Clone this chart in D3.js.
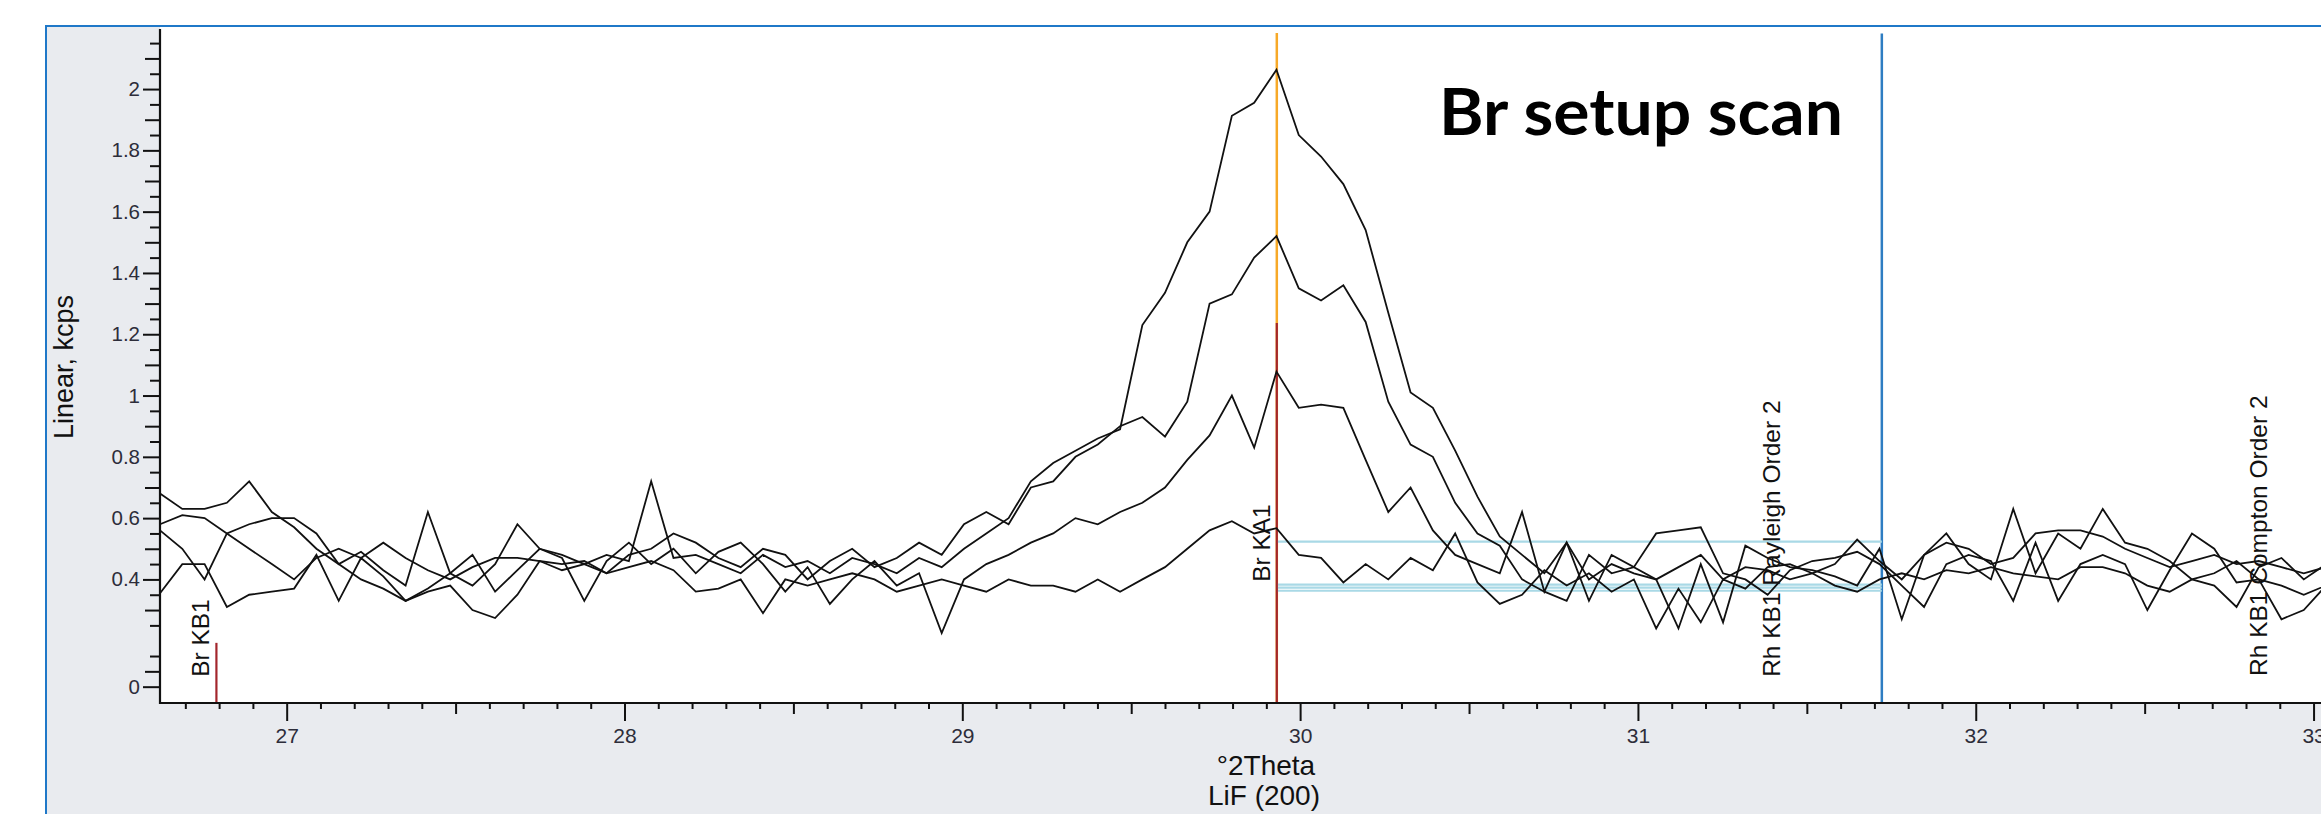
<!DOCTYPE html>
<html>
<head>
<meta charset="utf-8">
<script src="https://cdn.jsdelivr.net/npm/d3@7"></script>
<style>
html,body{margin:0;padding:0;background:#fff;}
svg{display:block;}
</style>
</head>
<body>
<svg id="chart" width="2321" height="814"></svg>
<script>
// ---------------- DATA ----------------
const angles = [26.625,26.691,26.757,26.823,26.889,26.956,27.022,27.088,27.154,27.220,
27.286,27.352,27.418,27.484,27.550,27.617,27.683,27.749,27.815,27.881,
27.947,28.013,28.079,28.145,28.211,28.278,28.344,28.410,28.476,28.542,
28.608,28.674,28.740,28.806,28.872,28.939,29.005,29.071,29.137,29.203,
29.269,29.335,29.401,29.467,29.533,29.600,29.666,29.732,29.798,29.864,
29.930,29.996,30.062,30.128,30.194,30.261,30.327,30.393,30.459,30.525,
30.591,30.657,30.723,30.789,30.855,30.922,30.988,31.054,31.120,31.186,
31.252,31.318,31.384,31.450,31.516,31.583,31.649,31.715,31.781,31.847,
31.913,31.979,32.045,32.111,32.177,32.244,32.310,32.376,32.442,32.508,
32.574,32.640,32.706,32.772,32.838,32.905,32.971,33.037];

const scanA = [0.58,0.61,0.60,0.55,0.50,0.45,0.40,0.47,0.50,0.47,
0.52,0.47,0.43,0.40,0.44,0.47,0.47,0.46,0.43,0.45,
0.48,0.46,0.72,0.47,0.48,0.45,0.42,0.48,0.44,0.46,
0.42,0.47,0.45,0.42,0.47,0.44,0.50,0.55,0.60,0.72,
0.78,0.82,0.86,0.89,1.23,1.335,1.50,1.60,1.913,1.955,
2.063,1.85,1.78,1.69,1.54,1.27,1.01,0.96,0.82,0.67,
0.54,0.48,0.42,0.52,0.40,0.45,0.42,0.40,0.44,0.48,
0.40,0.44,0.43,0.40,0.42,0.45,0.53,0.46,0.40,0.48,
0.52,0.50,0.45,0.47,0.55,0.56,0.56,0.54,0.50,0.47,
0.44,0.46,0.48,0.45,0.46,0.44,0.42,0.44];

const scanB = [0.68,0.63,0.63,0.65,0.72,0.62,0.57,0.50,0.45,0.49,
0.43,0.38,0.62,0.42,0.38,0.45,0.58,0.50,0.48,0.45,
0.42,0.48,0.50,0.55,0.52,0.47,0.44,0.50,0.48,0.40,
0.46,0.50,0.44,0.47,0.52,0.48,0.58,0.62,0.58,0.70,
0.72,0.80,0.84,0.90,0.93,0.866,0.98,1.30,1.33,1.45,
1.52,1.35,1.31,1.36,1.24,0.98,0.84,0.80,0.65,0.55,
0.51,0.40,0.36,0.33,0.48,0.42,0.44,0.40,0.24,0.45,
0.26,0.51,0.47,0.44,0.43,0.41,0.38,0.50,0.27,0.48,
0.55,0.45,0.40,0.63,0.42,0.55,0.50,0.63,0.52,0.50,
0.46,0.40,0.38,0.31,0.44,0.47,0.40,0.45];

const scanC = [0.56,0.50,0.40,0.55,0.58,0.60,0.60,0.55,0.45,0.40,
0.37,0.33,0.37,0.42,0.48,0.36,0.43,0.50,0.47,0.33,
0.46,0.52,0.45,0.50,0.42,0.49,0.52,0.45,0.36,0.44,
0.32,0.40,0.46,0.38,0.42,0.225,0.40,0.45,0.48,0.52,
0.55,0.60,0.58,0.62,0.65,0.70,0.79,0.87,1.00,0.83,
1.078,0.96,0.97,0.96,0.79,0.62,0.70,0.56,0.48,0.45,
0.42,0.62,0.36,0.52,0.33,0.48,0.44,0.55,0.56,0.57,
0.42,0.40,0.35,0.43,0.46,0.47,0.49,0.45,0.38,0.31,
0.45,0.48,0.46,0.33,0.52,0.33,0.45,0.48,0.45,0.30,
0.43,0.55,0.50,0.39,0.40,0.27,0.30,0.38];

const scanD = [0.355,0.45,0.45,0.31,0.35,0.36,0.37,0.48,0.33,0.47,
0.41,0.33,0.36,0.38,0.30,0.274,0.35,0.46,0.45,0.46,
0.42,0.44,0.46,0.43,0.36,0.37,0.40,0.29,0.40,0.38,
0.40,0.42,0.40,0.36,0.38,0.40,0.38,0.36,0.40,0.38,
0.38,0.36,0.40,0.36,0.40,0.44,0.50,0.56,0.59,0.55,
0.567,0.48,0.47,0.39,0.45,0.40,0.47,0.43,0.55,0.39,
0.32,0.35,0.43,0.38,0.42,0.36,0.40,0.24,0.37,0.26,
0.40,0.37,0.44,0.45,0.42,0.38,0.36,0.40,0.42,0.40,
0.43,0.42,0.44,0.42,0.41,0.40,0.44,0.44,0.42,0.38,
0.36,0.40,0.42,0.46,0.40,0.38,0.35,0.38];

const scans = [scanA, scanB, scanC, scanD];

// Line markers (element lines)
const markerNames = ["Br KB1", "Br KA1", "Rh KB1 Rayleigh Order 2", "Rh KB1 Compton Order 2"];
const markerAngles = [26.792, 29.931, 31.441, 32.883];
const markerHeights = [0.193, 1.237, 0, 0];

// Cursors and background levels
const peakCursor = 29.931;
const bgCursor = 31.722;
const bgLevels = [0.523, 0.383, 0.373, 0.363];

// Axis ticks
const xTickValues = [27, 28, 29, 30, 31, 32, 33];
const xTickLabels = ["27", "28", "29", "30", "31", "32", "33"];
const yTickValues = [0.05, 0.4, 0.6, 0.8, 1.0, 1.2, 1.4, 1.6, 1.8, 2.0];
const yTickLabels = ["0", "0.4", "0.6", "0.8", "1", "1.2", "1.4", "1.6", "1.8", "2"];

const xTitle = "°2Theta";
const xSubTitle = "LiF (200)";
const yTitle = "Linear, kcps";
const chartNote = "Br setup scan";

// ---------------- DRAW ----------------
(function () {
const W = 2321, H = 814;
const svg = d3.select("#chart");
const pLeft = 160, pTop = 29, pBottom = 702, pRight = 2372;

const x = d3.scaleLinear().domain([26.625, 33.173]).range([pLeft, pRight]);
const y = d3.scaleLinear().domain([0, 2.196]).range([pBottom, pTop]);

const font = "'Liberation Sans', Arial, sans-serif";

// frame
svg.append("rect").attr("x", 46).attr("y", 26).attr("width", W).attr("height", H)
  .attr("fill", "#e9ebef").attr("stroke", "#1f78c8").attr("stroke-width", 2);
// plot area
svg.append("rect").attr("x", pLeft).attr("y", 27).attr("width", W - pLeft + 10).attr("height", pBottom - 27)
  .attr("fill", "#ffffff");

const plot = svg.append("g");

// cursors
plot.append("line")
  .attr("x1", x(peakCursor)).attr("x2", x(peakCursor))
  .attr("y1", y(0)).attr("y2", y(2.183))
  .attr("stroke", "#f7a928").attr("stroke-width", 2.5);
plot.append("line")
  .attr("x1", x(bgCursor)).attr("x2", x(bgCursor))
  .attr("y1", y(0)).attr("y2", y(2.181))
  .attr("stroke", "#2e7dc2").attr("stroke-width", 2.5);

// background levels
plot.selectAll("line.bg").data(bgLevels).join("line").attr("class", "bg")
  .attr("x1", x(peakCursor)).attr("x2", x(bgCursor))
  .attr("y1", d => y(d)).attr("y2", d => y(d))
  .attr("stroke", "#a9d9e6").attr("stroke-width", 2.2);

// marker lines
const markers = markerNames.map((n, i) => ({ name: n, angle: markerAngles[i], h: markerHeights[i] }));
plot.selectAll("line.mk").data(markers.filter(d => d.h > 0)).join("line").attr("class", "mk")
  .attr("x1", d => x(d.angle)).attr("x2", d => x(d.angle))
  .attr("y1", y(0)).attr("y2", d => y(d.h))
  .attr("stroke", "#a3262c").attr("stroke-width", 2.2);

// marker labels (label start elevation in data units)
const labelBase = { "Br KB1": 0.082, "Br KA1": 0.392, "Rh KB1 Rayleigh Order 2": 0.082, "Rh KB1 Compton Order 2": 0.085 };
plot.selectAll("text.mk").data(markers).join("text").attr("class", "mk")
  .attr("transform", d => `translate(${x(d.angle) - 7},${y(labelBase[d.name])}) rotate(-90)`)
  .attr("font-family", font).attr("font-size", 24.5).attr("fill", "#111")
  .text(d => d.name);

// scan lines
const line = d3.line().x((d, i) => x(angles[i])).y(d => y(d));
plot.selectAll("path.scan").data(scans).join("path").attr("class", "scan")
  .attr("d", line).attr("fill", "none").attr("stroke", "#111").attr("stroke-width", 1.8)
  .attr("stroke-linejoin", "miter");

// axes
const axisColor = "#111";
function styleAxis(g) {
  g.select(".domain").remove();
  g.selectAll(".tick line").attr("stroke", axisColor).attr("stroke-width", 2);
}
const xMinor = d3.range(267, 332).map(v => v / 10).filter(v => (Math.round(v * 10) % 5) !== 0);
const xMid = [27.5, 28.5, 29.5, 30.5, 31.5, 32.5];
svg.append("g").attr("transform", `translate(0,${pBottom + 1})`)
  .call(d3.axisBottom(x).tickValues(xMinor).tickSize(6).tickFormat("")).call(styleAxis);
svg.append("g").attr("transform", `translate(0,${pBottom + 1})`)
  .call(d3.axisBottom(x).tickValues(xMid).tickSize(11).tickFormat("")).call(styleAxis);
const xAxis = svg.append("g").attr("transform", `translate(0,${pBottom + 1})`)
  .call(d3.axisBottom(x).tickValues(xTickValues).tickSize(18).tickPadding(7)
    .tickFormat((d, i) => xTickLabels[i])).call(styleAxis);
xAxis.selectAll("text").attr("font-family", font).attr("font-size", 21).attr("fill", "#2d2d3a");

// y ticks
const yShort = d3.range(3, 44, 2).map(v => v * 0.05);
const yMed = [0.1, 0.3, 0.5, 0.7, 0.9, 1.1, 1.3, 1.5, 1.7, 1.9, 2.1];
svg.append("g").attr("transform", `translate(${pLeft},0)`)
  .call(d3.axisLeft(y).tickValues(yShort).tickSize(10).tickFormat("")).call(styleAxis);
svg.append("g").attr("transform", `translate(${pLeft},0)`)
  .call(d3.axisLeft(y).tickValues(yMed).tickSize(15).tickFormat("")).call(styleAxis);
const yAxis = svg.append("g").attr("transform", `translate(${pLeft},0)`)
  .call(d3.axisLeft(y).tickValues(yTickValues).tickSize(17).tickPadding(3)
    .tickFormat((d, i) => yTickLabels[i])).call(styleAxis);
yAxis.selectAll("text").attr("font-family", font).attr("font-size", 20.5).attr("fill", "#2d2d3a");

// axis lines
svg.append("line").attr("x1", pLeft).attr("x2", pLeft).attr("y1", pTop).attr("y2", pBottom + 2)
  .attr("stroke", axisColor).attr("stroke-width", 2.2);
svg.append("line").attr("x1", pLeft - 1).attr("x2", W + 5).attr("y1", pBottom + 1).attr("y2", pBottom + 1)
  .attr("stroke", axisColor).attr("stroke-width", 2.2);

// titles
svg.append("text").attr("x", 1266).attr("y", 775).attr("text-anchor", "middle")
  .attr("font-family", font).attr("font-size", 28).attr("fill", "#111").text(xTitle);
svg.append("text").attr("x", 1264).attr("y", 805).attr("text-anchor", "middle")
  .attr("font-family", font).attr("font-size", 28).attr("fill", "#111").text(xSubTitle);
svg.append("text").attr("transform", "translate(73,367) rotate(-90)").attr("text-anchor", "middle")
  .attr("font-family", font).attr("font-size", 27).attr("fill", "#111").text(yTitle);

// annotation
svg.append("text").attr("x", 1439).attr("y", 135)
  .attr("font-family", "Lato, 'Open Sans', sans-serif").attr("font-weight", 700)
  .attr("font-size", 65).attr("fill", "#000").attr("textLength", 404).attr("lengthAdjust", "spacingAndGlyphs")
  .text(chartNote);
})();
</script>
</body>
</html>
